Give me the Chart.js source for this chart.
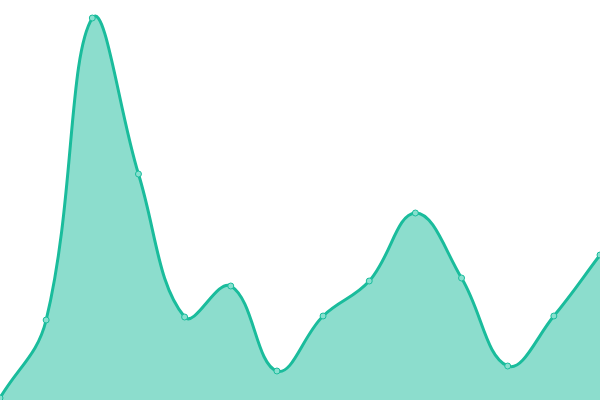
<!DOCTYPE html>
<html>
<head>
<meta charset="utf-8">
<script src="https://cdn.jsdelivr.net/npm/chart.js@4"></script>
<style>
html,body{margin:0;padding:0;background:#fff;}
#wrap{width:600px;height:400px;position:relative;}
</style>
</head>
<body>
<div id="wrap"><canvas id="c"></canvas></div>
<script>
const labels = ["1","2","3","4","5","6","7","8","9","10","11","12","13","14"];
const values = [2, 80, 382, 226, 83, 114, 29, 84, 119, 187, 122, 34, 84, 145];
const yMin = 0;
const yMax = 400;

new Chart(document.getElementById('c'), {
  type: 'line',
  data: {
    labels: labels,
    datasets: [{
      data: values,
      borderColor: '#1abc9c',
      backgroundColor: 'rgba(26,188,156,0.5)',
      pointBackgroundColor: 'rgba(136,224,207,1)',
      pointBorderColor: '#1abc9c',
      pointRadius: 3,
      pointBorderWidth: 1,
      borderWidth: 3,
      fill: true,
      tension: 0.4
    }]
  },
  options: {
    responsive: true,
    maintainAspectRatio: false,
    animation: false,
    layout: { padding: 0, autoPadding: false },
    plugins: { legend: { display: false }, tooltip: { enabled: false } },
    scales: {
      x: { display: false, offset: false },
      y: { display: false, min: yMin, max: yMax }
    }
  }
});
</script>
</body>
</html>
